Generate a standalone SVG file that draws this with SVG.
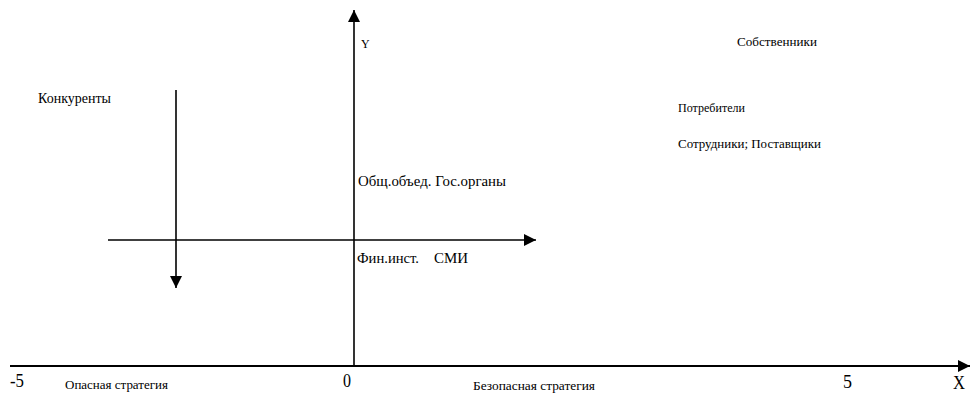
<svg xmlns="http://www.w3.org/2000/svg" width="970" height="396" viewBox="0 0 970 396">
<style>
.ax{stroke:#000;stroke-width:2;fill:none}
.ln{stroke:#000;stroke-width:1.6;fill:none}
.t{font-family:"Liberation Serif","Times New Roman",Tinos,"Nimbus Roman","Noto Serif","DejaVu Serif",FreeSerif,serif;fill:#000}
</style>
<defs>
<marker id="ah" viewBox="0 0 12 12" refX="12" refY="6" markerWidth="12" markerHeight="12" markerUnits="userSpaceOnUse" orient="auto">
<path d="M0,0 L12,6 L0,12 Z" fill="#000"/>
</marker>
</defs>
<rect width="970" height="396" fill="#fff"/>
<g id="connectors">
<line class="ax" x1="10" y1="366" x2="970" y2="366" marker-end="url(#ah)"/>
<line class="ln" x1="354" y1="366" x2="354" y2="10" marker-end="url(#ah)"/>
<line class="ln" x1="108" y1="240" x2="536" y2="240" marker-end="url(#ah)"/>
<line class="ln" x1="176" y1="90" x2="176" y2="288" marker-end="url(#ah)"/>
</g>
<g class="t">
<g id="konkurenty"><text x="38" y="103" font-size="15" textLength="73" lengthAdjust="spacingAndGlyphs">Конкуренты</text></g>
<g id="y-label"><text x="361" y="48" font-size="12">Y</text></g>
<g id="obsh"><text x="358" y="186" font-size="15" textLength="148" lengthAdjust="spacingAndGlyphs">Общ.объед. Гос.органы</text></g>
<g id="fin"><text x="357" y="263" font-size="15" textLength="62" lengthAdjust="spacingAndGlyphs">Фин.инст.</text></g>
<g id="smi"><text x="434" y="263" font-size="15" textLength="34" lengthAdjust="spacingAndGlyphs">СМИ</text></g>
<g id="sobstv"><text x="737" y="46" font-size="13" textLength="80" lengthAdjust="spacingAndGlyphs">Собственники</text></g>
<g id="potreb"><text x="678" y="112" font-size="13" textLength="67" lengthAdjust="spacingAndGlyphs">Потребители</text></g>
<g id="sotr"><text x="678" y="148" font-size="13" textLength="143" lengthAdjust="spacingAndGlyphs">Сотрудники; Поставщики</text></g>
<g id="ticks">
<text x="10" y="387" font-size="19" textLength="14" lengthAdjust="spacingAndGlyphs">-5</text>
<text x="343" y="387" font-size="19" textLength="8" lengthAdjust="spacingAndGlyphs">0</text>
<text x="843" y="388" font-size="19" textLength="9" lengthAdjust="spacingAndGlyphs">5</text>
<text x="953" y="389" font-size="18" textLength="12" lengthAdjust="spacingAndGlyphs">X</text>
</g>
<g id="strat">
<text x="65" y="389" font-size="12" textLength="103" lengthAdjust="spacingAndGlyphs">Опасная стратегия</text>
<text x="473" y="390" font-size="12" textLength="122" lengthAdjust="spacingAndGlyphs">Безопасная стратегия</text>
</g>
</g>
</svg>
